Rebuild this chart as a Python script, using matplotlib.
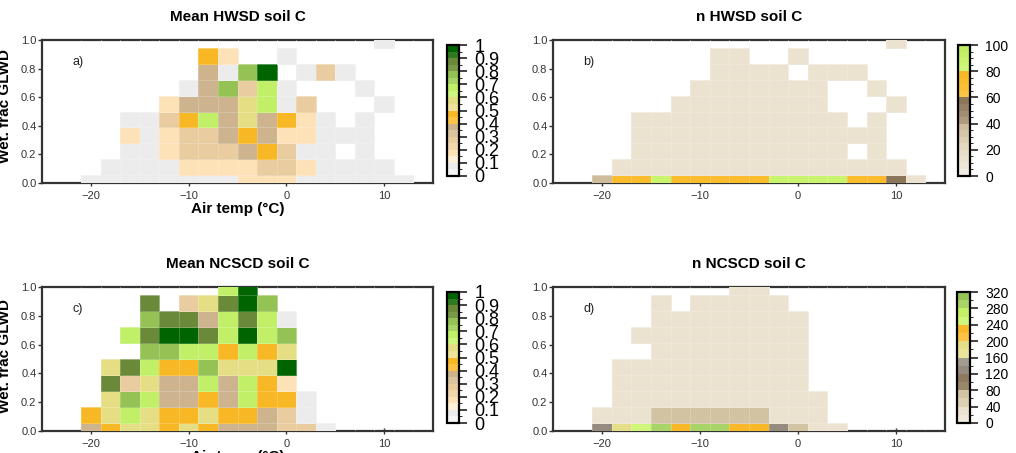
import numpy as np
import matplotlib
matplotlib.use('Agg')
import matplotlib.pyplot as plt
from matplotlib.colors import ListedColormap, BoundaryNorm

plt.rcParams['font.family'] = ['Liberation Sans', 'DejaVu Sans']

_ = np.nan

# bin centres: air temp in 2 degree bins, wetland fraction in ninths
temp_bins = np.arange(-20, 13, 2)
wet_bins = np.arange(10) / 9.0

# rows go from wet frac = 1 (top) down to wet frac = 0 (bottom)
mean_hwsd = [
    [_, _, _, _, _, _, _, _, _, _, _, _, _, _, _, .07, _],
    [_, _, _, _, _, _, .47, .17, _, _, .07, _, _, _, _, _, _],
    [_, _, _, _, _, _, .37, .07, .77, .97, _, .07, .27, .07, _, _, _],
    [_, _, _, _, _, .07, .37, .77, .27, .67, .07, _, _, _, .07, _, _],
    [_, _, _, _, .17, .37, .37, .37, .57, .67, .07, .27, _, _, _, .07, _],
    [_, _, .07, .07, .27, .47, .67, .37, .57, .37, .47, .17, .07, _, .07, _, _],
    [_, _, .17, .07, .17, .27, .27, .37, .47, .37, .17, .17, .07, .07, .07, _, _],
    [_, _, .07, .07, .17, .27, .27, .27, .37, .47, .27, .07, .07, _, .07, _, _],
    [_, .07, .07, .07, .07, .17, .17, .17, .17, .27, .27, .17, .07, .07, .07, .07, _],
    [.07, .07, .07, .07, .07, .07, .07, .07, .17, .17, .17, .07, .07, .07, .07, .07, .07],
]

n_hwsd = [
    [_, _, _, _, _, _, _, _, _, _, _, _, _, _, _, 12, _],
    [_, _, _, _, _, _, 12, 12, _, _, 12, _, _, _, _, _, _],
    [_, _, _, _, _, _, 12, 12, 12, 12, _, 12, 12, 12, _, _, _],
    [_, _, _, _, _, 12, 12, 12, 12, 12, 12, 12, _, _, 12, _, _],
    [_, _, _, _, 12, 12, 12, 12, 12, 12, 12, 12, _, _, _, 12, _],
    [_, _, 12, 12, 12, 12, 12, 12, 12, 12, 12, 12, 12, _, 12, _, _],
    [_, _, 12, 12, 12, 12, 12, 12, 12, 12, 12, 12, 12, 12, 12, _, _],
    [_, _, 12, 12, 12, 12, 12, 12, 12, 12, 12, 12, 12, _, 12, _, _],
    [_, 12, 12, 12, 12, 12, 12, 12, 12, 12, 12, 12, 12, 12, 12, 12, _],
    [37, 72, 72, 88, 72, 72, 72, 72, 72, 88, 88, 88, 88, 72, 72, 57, 12],
]

mean_ncscd = [
    [_, _, _, _, _, _, _, .67, .97, _, _, _, _, _, _, _, _],
    [_, _, _, .87, _, .27, .57, .87, .97, .77, _, _, _, _, _, _, _],
    [_, _, _, .77, .87, .87, .37, .67, .87, .67, .07, _, _, _, _, _, _],
    [_, _, .67, .87, .97, .97, .87, .67, .97, .67, .77, _, _, _, _, _, _],
    [_, _, _, .77, .77, .67, .67, .47, .67, .47, .57, _, _, _, _, _, _],
    [_, .57, .87, .67, .47, .47, .77, .57, .57, .57, .97, _, _, _, _, _, _],
    [_, .87, .27, .57, .37, .37, .67, .37, .67, .47, .17, _, _, _, _, _, _],
    [_, .57, .77, .67, .37, .37, .47, .37, .67, .47, .47, .07, _, _, _, _, _],
    [.47, .57, .67, .57, .47, .47, .57, .47, .47, .37, .27, .07, _, _, _, _, _],
    [.37, .47, .57, .57, .47, .57, .47, .37, .37, .37, .27, .27, .07, _, _, _, _],
]

n_ncscd = [
    [_, _, _, _, _, _, _, 25, 25, _, _, _, _, _, _, _, _],
    [_, _, _, 25, _, 25, 25, 25, 25, 25, _, _, _, _, _, _, _],
    [_, _, _, 25, 25, 25, 25, 25, 25, 25, 25, _, _, _, _, _, _],
    [_, _, 25, 25, 25, 25, 25, 25, 25, 25, 25, _, _, _, _, _, _],
    [_, _, _, 25, 25, 25, 25, 25, 25, 25, 25, _, _, _, _, _, _],
    [_, 25, 25, 25, 25, 25, 25, 25, 25, 25, 25, _, _, _, _, _, _],
    [_, 25, 25, 25, 25, 25, 25, 25, 25, 25, 25, _, _, _, _, _, _],
    [_, 25, 25, 25, 25, 25, 25, 25, 25, 25, 25, 25, _, _, _, _, _],
    [25, 25, 25, 65, 65, 65, 65, 65, 65, 25, 25, 25, _, _, _, _, _],
    [130, 190, 250, 290, 220, 290, 290, 220, 220, 130, 70, 25, 25, _, _, _, _],
]

# colour tables
mean_colors = ['#f5f5f5', '#ececec', '#fff0d8', '#fde2b8', '#f0d7ae', '#e9cc9f',
               '#dac3a0', '#cdb48e', '#fcc444', '#f8b825', '#efe49a', '#e6de85',
               '#cdf77e', '#c1f068', '#a8d468', '#94c255', '#7a9a48', '#6a8a3a',
               '#2f7a22', '#006400']
mean_levels = np.linspace(0, 1, 21)

nh_colors = ['#f1ebe1', '#eee6d8', '#ece2d0', '#e9ddc9', '#e4d7c0', '#ddcfb5',
             '#d6c6a9', '#cebc9c', '#ad9a7f', '#a18d72', '#968166', '#8c765a',
             '#fcc444', '#fbbf36', '#fabb2c', '#f9b726', '#cdf67a', '#c8f46e',
             '#c3f066', '#bdec5e']
nh_levels = np.arange(0, 101, 5)

nn_colors = ['#f1e9dc', '#ece2d0', '#ddd0b4', '#d2c3a3', '#9a876b', '#8e7a5f',
             '#958c7f', '#a39c90', '#ece39a', '#e6dd88', '#fcc444', '#f9b82a',
             '#cdf67a', '#c3f066', '#a8d468', '#94c255']
nn_levels = np.arange(0, 321, 20)

xe = np.append(temp_bins - 1, temp_bins[-1] + 1)
ye = np.append(wet_bins - 1 / 18, wet_bins[-1] + 1 / 18)

W, H = 1016, 453
fig = plt.figure(figsize=(W / 100, H / 100), dpi=100)


def px(l, t, r, b):
    return [l / W, 1 - b / H, (r - l) / W, (b - t) / H]


def panel(box, cbox, data, colors, levels, ticks, ticklabels, title, letter, cb_fs):
    ax = fig.add_axes(px(*box))
    cmap = ListedColormap(colors)
    norm = BoundaryNorm(levels, cmap.N)
    z = np.array(data, dtype=float)[::-1]
    mesh = ax.pcolormesh(xe, ye, np.ma.masked_invalid(z), cmap=cmap, norm=norm,
                         edgecolors=(1, 1, 1, 0.2), linewidth=0.4, zorder=3)
    ax.set_xlim(-25, 15)
    ax.set_ylim(0, 1)
    ax.set_xticks([-20, -10, 0, 10])
    ax.set_yticks(np.arange(0, 1.01, 0.2))
    ax.set_yticklabels(['%.1f' % v for v in np.arange(0, 1.01, 0.2)])
    ax.tick_params(labelsize=8, color='#333333', labelcolor='#333333', width=1)
    ax.tick_params(axis='x', direction='inout', length=5, pad=3)
    ax.tick_params(axis='y', direction='out', length=3, pad=1)
    for s in ax.spines.values():
        s.set_linewidth(1.6)
        s.set_color('#333333')
    ax.set_title(title, fontsize=11, fontweight='bold', pad=14)
    ax.text(0.077, 0.846, letter, transform=ax.transAxes, fontsize=9,
            ha='left', va='center', color='#222222')

    cax = fig.add_axes(px(*cbox))
    cb = fig.colorbar(mesh, cax=cax, boundaries=levels, ticks=ticks)
    cb.ax.set_yticklabels(ticklabels)
    cb.ax.tick_params(labelsize=cb_fs, length=6, width=1.2, pad=5, color='#222222')
    cb.outline.set_linewidth(1.6)
    return ax


mean_ticks = np.arange(0, 1.01, 0.1)
mean_labels = ['0'] + ['%.1f' % v for v in mean_ticks[1:-1]] + ['1']

ax_a = panel((42, 40, 433, 183), (447, 45, 459, 176), mean_hwsd, mean_colors,
             mean_levels, mean_ticks, mean_labels, 'Mean HWSD soil C', 'a)', 13)
ax_b = panel((553, 40, 945, 183), (958, 45, 970, 176), n_hwsd, nh_colors,
             nh_levels, np.arange(0, 101, 20), [str(v) for v in range(0, 101, 20)],
             'n HWSD soil C', 'b)', 10)
ax_c = panel((42, 287, 433, 431), (447, 292, 459, 423), mean_ncscd, mean_colors,
             mean_levels, mean_ticks, mean_labels, 'Mean NCSCD soil C', 'c)', 13)
ax_d = panel((553, 287, 945, 431), (957, 292, 970, 423), n_ncscd, nn_colors,
             nn_levels, np.arange(0, 321, 40), [str(v) for v in range(0, 321, 40)],
             'n NCSCD soil C', 'd)', 10)

# the lower x label sits partly below the figure edge, as in the original
for ax in (ax_a, ax_c):
    ax.text(0.5, -0.13, 'Air temp (°C)', transform=ax.transAxes, ha='center',
            va='top', fontsize=11, fontweight='bold')

fig.text(5 / W, 1 - 106 / H, 'Wet. frac GLWD', rotation=90, ha='center',
         va='center', fontsize=11, fontweight='bold')
fig.text(5 / W, 1 - 356 / H, 'Wet. frac GLWD', rotation=90, ha='center',
         va='center', fontsize=11, fontweight='bold')

fig.savefig('out.png', dpi=100)
